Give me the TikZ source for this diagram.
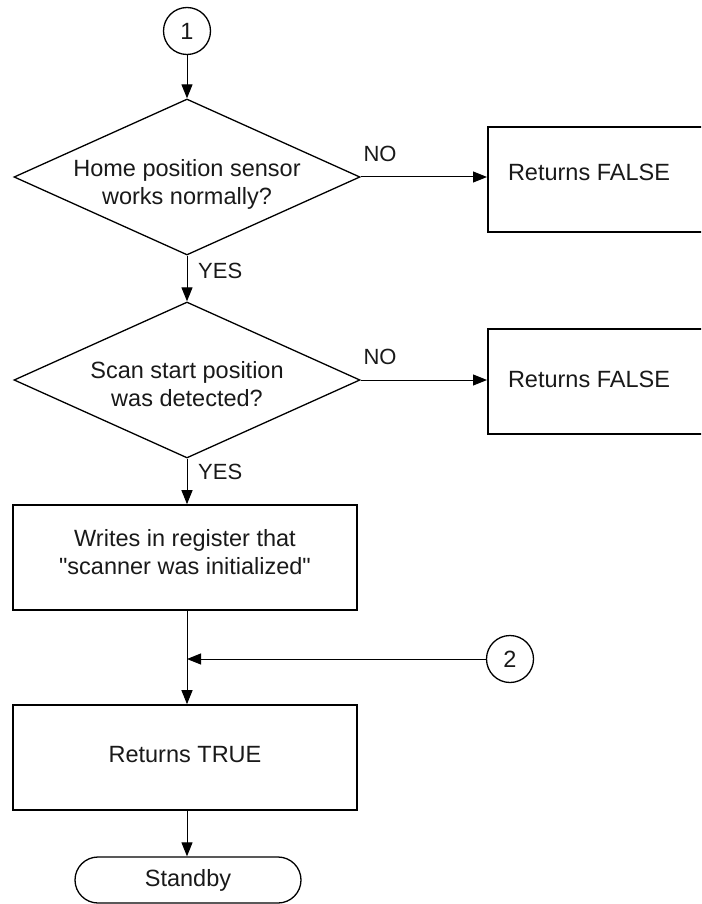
\documentclass[tikz,border=0pt]{standalone}
\usepackage{fontspec}
\newfontfamily\lsans{Liberation Sans}
\usetikzlibrary{shapes.geometric,arrows.meta}
\begin{document}
\begin{tikzpicture}[x=1pt,y=-1pt,
  every node/.style={font=\lsans\fontsize{23.5}{28}\selectfont, text=black!90},
  box/.style={draw, line width=1.6pt, minimum width=344pt, minimum height=105pt, inner sep=0pt, align=center},
  dec/.style={draw, diamond, line width=1.3pt, minimum width=346pt, minimum height=156pt, aspect=2.218, inner sep=0pt},
  txt/.style={align=center, inner sep=0pt},
  lbl/.style={inner sep=0pt, font=\lsans\fontsize{22}{26}\selectfont},
  conn/.style={draw, circle, line width=1.3pt, minimum size=47pt, inner sep=0pt},
  term/.style={draw, rectangle, rounded corners=23pt, line width=1.3pt, minimum width=226pt, minimum height=46pt, inner sep=0pt},
  arr/.style={line width=1pt, -{Triangle[length=14pt,width=11pt]}}
]
\useasboundingbox (0,0) rectangle (701,904);
\clip (0,0) rectangle (701,904);

\node[conn] (c1) at (187,31) {1};
\node[dec] (d1) at (187,177) {};
\node[txt] (t1) at (187,184) {Home position sensor\\works normally?};
\node[box, anchor=north west, minimum width=280pt] (f1) at (487,126) {};
\node[txt] (tf1) at (589,172) {Returns FALSE};
\node[lbl] (no1) at (380,154) {NO};
\node[lbl, anchor=west] (yes1) at (198,271) {YES};

\node[dec] (d2) at (187,380) {};
\node[txt] (t2) at (187,384) {Scan start position\\was detected?};
\node[box, anchor=north west, minimum width=280pt] (f2) at (487,328) {};
\node[txt] (tf2) at (589,379) {Returns FALSE};
\node[lbl] (no2) at (380,357) {NO};
\node[lbl, anchor=west] (yes2) at (198,472) {YES};

\node[box] (w) at (185,557.5) {};
\node[txt] (tw) at (185,552) {Writes in register that\\"scanner was initialized"};

\node[conn] (c2) at (510,659) {2};
\coordinate (j) at (187,659);

\node[box] (rt) at (185,757.5) {};
\node[txt] (trt) at (185,755) {Returns TRUE};

\node[term] (sb) at (188,880) {Standby};

\draw[arr] (c1) -- (d1.north);
\draw[arr] (d1.east) -- (d1.east -| f1.west);
\draw[arr] (d1.south) -- (d2.north);
\draw[arr] (d2.east) -- (d2.east -| f2.west);
\draw[arr] (d2.south) -- (d2.south |- w.north);
\draw[arr] (j |- w.south) -- (j |- rt.north);
\draw[arr] (c2) -- (j);
\draw[arr] (j |- rt.south) -- (j |- sb.north);
\end{tikzpicture}
\end{document}
